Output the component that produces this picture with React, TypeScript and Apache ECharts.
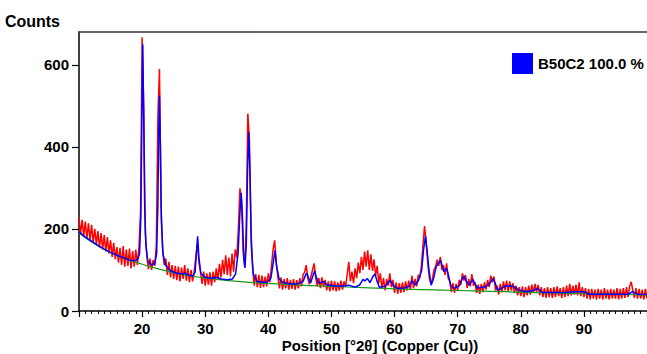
import React, { useEffect, useRef } from "react";
import * as echarts from "echarts";

const FONT = "'Liberation Sans', Arial, sans-serif";

// Observed counts on a regular 2θ grid
const OBS_START = 10;
const OBS_STEP = 0.25;
const OBS_COUNTS = [
  228, 188, 222, 182, 218, 176, 214, 172, 210, 168, 200, 162, 195, 155, 190, 150, 185, 145, 180, 140,
  172, 132, 166, 126, 156, 118, 154, 112, 158, 108, 150, 110, 152, 104, 146, 108, 150, 112, 155, 240,
  667, 500, 190, 135, 102, 128, 100, 124, 110, 160, 476, 590, 260, 150, 112, 128, 88, 120, 82, 112,
  78, 110, 75, 108, 72, 106, 78, 112, 74, 104, 70, 100, 72, 96, 130, 165, 120, 95, 66, 96,
  62, 92, 64, 94, 62, 96, 70, 104, 76, 115, 82, 125, 90, 136, 88, 130, 84, 140, 96, 150,
  130, 200, 299, 270, 150, 110, 200, 481, 420, 200, 110, 62, 90, 58, 88, 56, 86, 58, 84, 60,
  92, 70, 110, 150, 172, 120, 85, 55, 82, 52, 78, 55, 80, 52, 76, 54, 78, 52, 75, 55,
  80, 60, 88, 95, 112, 80, 65, 84, 100, 116, 82, 60, 80, 56, 82, 58, 76, 50, 72, 48,
  74, 50, 72, 48, 70, 50, 74, 52, 72, 60, 90, 120, 72, 96, 68, 104, 80, 118, 92, 132,
  100, 145, 108, 148, 100, 138, 98, 126, 86, 110, 68, 92, 55, 80, 50, 78, 62, 92, 58, 76,
  44, 70, 42, 68, 44, 70, 46, 72, 50, 74, 52, 86, 56, 78, 60, 88, 80, 110, 160, 207,
  170, 118, 82, 66, 78, 100, 108, 125, 110, 132, 100, 112, 88, 116, 80, 72, 46, 68, 44, 66,
  50, 76, 64, 92, 74, 88, 56, 78, 60, 90, 62, 70, 44, 64, 42, 66, 46, 70, 52, 76,
  58, 86, 70, 84, 50, 62, 40, 66, 46, 72, 50, 74, 48, 72, 50, 68, 44, 62, 38, 58,
  36, 60, 34, 58, 38, 62, 40, 64, 44, 66, 46, 64, 38, 58, 34, 56, 32, 58, 34, 56,
  32, 58, 34, 60, 36, 56, 32, 58, 34, 62, 36, 66, 38, 62, 40, 64, 38, 70, 36, 58,
  34, 56, 30, 54, 28, 54, 30, 52, 28, 54, 30, 52, 28, 56, 30, 52, 28, 54, 30, 52,
  30, 56, 28, 54, 30, 56, 32, 58, 34, 60, 71, 50, 32, 56, 30, 54, 30, 52, 28, 54,
  30,
];

// Calculated profile [2θ, counts]
const CALC_PROFILE: [number, number][] = [
  [10, 193], [11, 180], [12, 170], [13, 160], [14, 151], [15, 143], [16, 136], [17, 130], [18, 124],
  [18.8, 122], [19.3, 126], [19.6, 140], [19.8, 230], [19.95, 450], [20.1, 650], [20.25, 480],
  [20.4, 260], [20.6, 160], [20.9, 122], [21.5, 112], [22, 115], [22.3, 140], [22.5, 260],
  [22.65, 450], [22.75, 525], [22.9, 400], [23.05, 220], [23.3, 140], [23.7, 112], [24.5, 98],
  [25.5, 92], [26.5, 90], [26.8, 93], [27.2, 88], [28, 85], [28.4, 95], [28.6, 140], [28.8, 182],
  [29, 130], [29.3, 92], [30, 82], [31, 80], [31.9, 82], [32.5, 78], [33.5, 76], [34.3, 78],
  [34.8, 90], [35.2, 140], [35.5, 240], [35.7, 288], [35.9, 230], [36.1, 130], [36.3, 105],
  [36.5, 160], [36.7, 340], [36.9, 436], [37.1, 330], [37.3, 160], [37.6, 90], [38.2, 72],
  [39, 70], [39.8, 70], [40.4, 80], [40.8, 120], [41.05, 148], [41.3, 110], [41.7, 78],
  [42.3, 70], [43.5, 66], [44.5, 66], [45.5, 72], [45.9, 88], [46.1, 92], [46.4, 80], [46.7, 68],
  [47.1, 88], [47.35, 98], [47.6, 82], [48, 68], [48.8, 72], [49.3, 64], [50.5, 61], [52, 61],
  [52.7, 63], [53.8, 58], [54.5, 64], [55, 77], [55.3, 73], [55.7, 79], [56.1, 69], [56.6, 85],
  [56.9, 90], [57.2, 74], [57.6, 58], [58.5, 60], [59.3, 75], [59.8, 62], [60.5, 55], [61.5, 56],
  [62.3, 60], [62.8, 74], [63.3, 63], [63.8, 75], [64.3, 100], [64.6, 150], [64.9, 182],
  [65.2, 140], [65.45, 100], [65.8, 63], [66.2, 80], [66.6, 108], [67, 118], [67.3, 124],
  [67.8, 96], [68.2, 104], [68.5, 90], [68.9, 63], [69.4, 55], [70.3, 62], [70.7, 78], [71, 85],
  [71.4, 72], [71.8, 63], [72.4, 77], [72.8, 65], [73.1, 56], [74.4, 59], [75, 66], [75.6, 79],
  [75.9, 70], [76.3, 51], [77, 56], [77.6, 61], [78.7, 61], [79.7, 51], [80.8, 47], [82, 50],
  [82.65, 55], [83.4, 45], [85, 45], [87, 45], [88.7, 47], [90, 47], [90.8, 41], [93, 41],
  [95, 41], [97.1, 41], [97.7, 47], [98.5, 41], [100, 40],
];

// Background [2θ, counts]
const BKG_POS = [10, 12, 14, 16, 18, 20, 22, 24, 26, 28, 30, 33, 36, 40, 45, 50, 55, 60, 65, 70, 75, 80, 85, 90, 95, 100];
const BKG_COUNTS = [190, 168, 150, 136, 124, 114, 105, 97, 90, 85, 80, 75, 71, 67, 63, 60, 57, 54, 52, 50, 48, 46, 44, 42, 40.5, 39];

const Y_TICKS = [0, 200, 400, 600];
const PHASE_NAME = "B50C2 100.0 %";
const X_TITLE = "Position [°2θ] (Copper (Cu))";
const Y_TITLE = "Counts";

export default function App() {
  const ref = useRef<HTMLDivElement>(null);
  useEffect(() => {
    if (!ref.current) return;
    const chart = echarts.init(ref.current, undefined, { renderer: "svg" });
    const bold = { fontFamily: FONT, fontWeight: "bold" as const, fontSize: 15, color: "#000" };
    const obs = OBS_COUNTS.map((v, i) => [OBS_START + i * OBS_STEP, v]);
    const bkg = BKG_POS.map((x, i) => [x, BKG_COUNTS[i]]);
    chart.setOption({
      animation: false,
      textStyle: { fontFamily: FONT },
      grid: { left: 79, right: 0, top: 32, bottom: 43, containLabel: false, outerBoundsMode: "none" },
      legend: {
        data: [{ name: PHASE_NAME, icon: "rect" }],
        left: 512,
        top: 53,
        itemWidth: 21,
        itemHeight: 21,
        padding: 0,
        selectedMode: false,
        textStyle: bold,
      },
      xAxis: [
        {
          type: "value",
          min: 10,
          max: 100,
          interval: 10,
          position: "bottom",
          name: X_TITLE,
          nameLocation: "middle",
          nameGap: 27,
          nameMoveOverlap: false,
          nameTextStyle: { ...bold, lineHeight: 15, padding: [0, 0, 0, 34] },
          axisLine: { lineStyle: { color: "#000", width: 1.5 } },
          axisTick: { show: true, length: 6, lineStyle: { color: "#000", width: 1.2 } },
          minorTick: { show: true, splitNumber: 10, length: 3, lineStyle: { color: "#000", width: 1 } },
          axisLabel: { ...bold, lineHeight: 15, margin: 10, showMinLabel: false, showMaxLabel: false },
          splitLine: { show: false },
          minorSplitLine: { show: false },
        },
        {
          type: "value",
          min: 10,
          max: 100,
          position: "top",
          axisLine: { show: true, lineStyle: { color: "#333", width: 1.5 } },
          axisTick: { show: false },
          axisLabel: { show: false },
          splitLine: { show: false },
        },
      ],
      yAxis: {
        type: "value",
        min: 0,
        max: 680,
        interval: 200,
        name: Y_TITLE,
        nameLocation: "end",
        nameGap: 11,
        nameMoveOverlap: false,
        nameTextStyle: { ...bold, fontSize: 16, align: "right", verticalAlign: "middle", padding: [0, 19, 0, 0] },
        axisLine: { show: true, lineStyle: { color: "#000", width: 1.5 } },
        axisTick: { show: true, length: 7, customValues: Y_TICKS, lineStyle: { color: "#000", width: 1.2 } },
        axisLabel: { ...bold, margin: 10, customValues: Y_TICKS },
        splitLine: { show: false },
      },
      series: [
        {
          name: "Observed",
          type: "line",
          data: obs,
          showSymbol: false,
          symbol: "none",
          lineStyle: { color: "#ff0000", width: 1.5 },
          itemStyle: { color: "#ff0000" },
          z: 1,
        },
        {
          name: "Background",
          type: "line",
          data: bkg,
          smooth: true,
          showSymbol: false,
          symbol: "none",
          lineStyle: { color: "#1a9a1a", width: 1.2 },
          itemStyle: { color: "#1a9a1a" },
          z: 2,
        },
        {
          name: PHASE_NAME,
          type: "line",
          data: CALC_PROFILE,
          showSymbol: false,
          symbol: "none",
          lineStyle: { color: "#0000ff", width: 1.5 },
          itemStyle: { color: "#0000ff" },
          z: 3,
        },
      ],
    });
    return () => chart.dispose();
  }, []);
  return (
    <div
      ref={ref}
      style={{ position: "fixed", left: 0, top: 0, width: 647, height: 354, background: "#fff" }}
    />
  );
}
